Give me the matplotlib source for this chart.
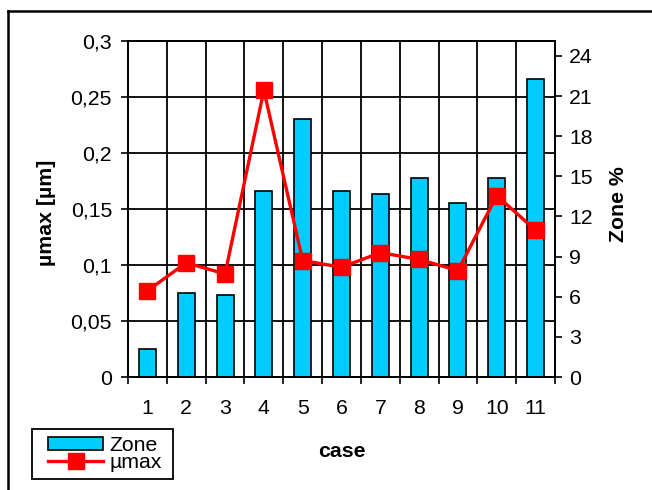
import matplotlib
matplotlib.use("Agg")
import matplotlib.pyplot as plt
from matplotlib.lines import Line2D
from matplotlib.patches import Patch, Rectangle
import numpy as np

plt.rcParams['font.family'] = ['Liberation Sans', 'DejaVu Sans']

# data
cases = ['1', '2', '3', '4', '5', '6', '7', '8', '9', '10', '11']
zone_pct = [2.1, 6.25, 6.1, 13.9, 19.3, 13.9, 13.7, 14.9, 13.0, 14.9, 22.25]
mu_max = [0.077, 0.102, 0.092, 0.256, 0.104, 0.098, 0.111, 0.105, 0.095, 0.162, 0.131]

left_ticks = [0, 0.05, 0.1, 0.15, 0.2, 0.25, 0.3]
left_ticklabels = ['0', '0,05', '0,1', '0,15', '0,2', '0,25', '0,3']
right_ticks = [0, 3, 6, 9, 12, 15, 18, 21, 24]

LEFT_MAX = 0.3
RIGHT_MAX = 25.12
FS = 15.3
BAR_COLOR = '#00CCFF'
LINE_COLOR = '#FF0000'

W, H = 652, 490
fig = plt.figure(figsize=(W / 100, H / 100), dpi=100)
ax = fig.add_axes([128 / W, 1 - 377 / H, (555 - 128) / W, (377 - 41) / H])
axb = ax.twinx()
axl = ax.twinx()

n = len(cases)
x = np.arange(n)

# base axes: left scale and grid
ax.set_xlim(-0.5, n - 0.5)
ax.set_ylim(0, LEFT_MAX)
ax.set_yticks(left_ticks)
ax.set_yticklabels(left_ticklabels)
ax.set_xticks(np.arange(n + 1) - 0.5)
ax.set_xticklabels([''] * (n + 1))
ax.set_xticks(x, minor=True)
ax.set_xticklabels(cases, minor=True)
ax.tick_params(axis='x', which='major', direction='out', length=5, width=1.2, color='black')
ax.tick_params(axis='x', which='minor', length=0, pad=16, labelsize=FS)
ax.tick_params(axis='y', direction='out', length=5, width=1.2, pad=6.5, labelsize=FS)
ax.grid(True, which='major', color='black', linewidth=1.3)
ax.set_axisbelow(True)

# bars on the right scale
axb.bar(x, zone_pct, width=0.44, color=BAR_COLOR, edgecolor='black', linewidth=1.2, zorder=2)
axb.set_ylim(0, RIGHT_MAX)
axb.set_yticks(right_ticks)
axb.tick_params(axis='y', direction='out', length=5, width=1.2, pad=5, labelsize=FS)
axb.patch.set_visible(False)

# line on the left scale, drawn above the bars
axl.plot(x, mu_max, color=LINE_COLOR, linewidth=2.4, marker='s', markersize=11,
         markerfacecolor=LINE_COLOR, markeredgecolor=LINE_COLOR, zorder=3)
axl.set_ylim(0, LEFT_MAX)
axl.set_yticks([])
axl.patch.set_visible(False)
for s in axl.spines.values():
    s.set_visible(False)

for a in (ax, axb):
    for s in a.spines.values():
        s.set_color('black')
        s.set_linewidth(1.3)

ax.set_ylabel('µmax [µm]', fontsize=FS, fontweight='bold', va='center')
ax.yaxis.set_label_coords((46.5 - 128) / 427, (377 - 213) / 336)
axb.set_ylabel('Zone %', fontsize=FS, fontweight='bold', rotation=90, va='center')
axb.yaxis.set_label_coords((619 - 128) / 427, (377 - 204) / 336)
ax.set_xlabel('case', fontsize=FS, fontweight='bold', va='center')
ax.xaxis.set_label_coords(0.5, (377 - 451) / 336)

# legend entries with a separate frame
handles = [Patch(facecolor=BAR_COLOR, edgecolor='black', linewidth=1.2),
           Line2D([0], [0], color=LINE_COLOR, linewidth=2.4, marker='s', markersize=11)]
leg = fig.legend(handles, ['Zone', 'µmax'], loc='upper left',
                 bbox_to_anchor=(48 / W, 1 - 436 / H), fontsize=FS,
                 frameon=False, borderpad=0, labelspacing=-0.08, handlelength=2.6,
                 handleheight=0.6, handletextpad=0.3, borderaxespad=0)
fig.add_artist(Rectangle((31.7 / W, 1 - 479.3 / H), (172.7 - 31.7) / W, 50 / H,
                         transform=fig.transFigure, facecolor='none',
                         edgecolor='black', linewidth=1.3))

# outer chart frame
fig.add_artist(Line2D([8 / W, 8 / W], [1 - 11 / H, -0.1], transform=fig.transFigure,
                      color='black', linewidth=1.8))
fig.add_artist(Line2D([8 / W, 1.1], [1 - 11 / H, 1 - 11 / H], transform=fig.transFigure,
                      color='black', linewidth=1.8))

fig.savefig('out.png', dpi=100)
